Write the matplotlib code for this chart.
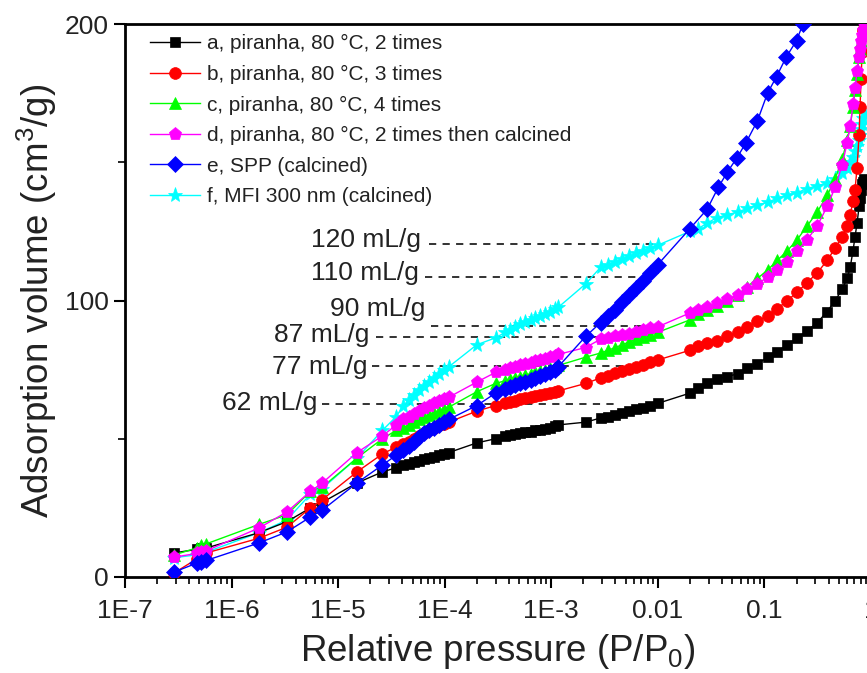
import matplotlib
matplotlib.use('Agg')
import matplotlib.pyplot as plt
from matplotlib.ticker import FixedLocator, FixedFormatter, NullFormatter

plt.rcParams['font.family'] = ['Liberation Sans', 'DejaVu Sans']
plt.rcParams['mathtext.fontset'] = 'custom'
plt.rcParams['mathtext.rm'] = 'Liberation Sans'
plt.rcParams['mathtext.it'] = 'Liberation Sans:italic'

# ---------------- data ----------------
P_common = [
    2.9e-7, 4.7e-7, 5.2e-7, 5.8e-7, 1.8e-6, 3.3e-6, 5.5e-6, 7.1e-6, 1.5e-5, 2.6e-5, 3.5e-5,
    4.1e-5, 4.6e-5, 5.1e-5, 5.7e-5, 6.4e-5, 7.1e-5, 7.9e-5, 8.8e-5, 9.8e-5, 1.09e-4,
    2.0e-4, 3.0e-4,
    3.7e-4, 4.1e-4, 4.6e-4, 5.1e-4, 5.7e-4, 6.4e-4, 7.1e-4, 7.9e-4, 8.8e-4, 9.8e-4, 1.09e-3, 1.16e-3,
    2.1e-3, 2.9e-3,
    3.4e-3, 4.0e-3, 4.6e-3, 5.4e-3, 6.2e-3, 7.2e-3, 8.4e-3, 1.0e-2,
    2.0e-2,
    0.024, 0.029, 0.036, 0.045, 0.056, 0.069, 0.086, 0.107, 0.132, 0.164, 0.203, 0.252, 0.313, 0.388,
    0.461, 0.536, 0.597, 0.638, 0.678, 0.708, 0.740, 0.773, 0.789, 0.807, 0.825, 0.842, 0.860,
]

V_a = [8.7, 10, 10.5, 10.5, 16, 20, 25, 27, 34, 38, 39.5,
       40.5, 41, 41.5, 42, 42.5, 43, 43.5, 44, 44.5, 45,
       48.5, 50,
       51, 51.3, 51.6, 52, 52.3, 52.6, 53, 53.3, 53.7, 54, 54.5, 55,
       56, 57.5,
       58, 58.7, 59.4, 60, 60.7, 61.3, 62, 62.8,
       66.5,
       68.5, 70, 71.5, 72.5, 73.5, 75.5, 77, 79.5, 81.5, 84, 86.5, 89, 92, 96,
       100, 104, 108, 112, 118, 123, 128, 134, 137, 140, 142, 143, 144]

V_b = [1.5, 6.5, 8, 8.7, 14, 18, 25, 28, 38, 44.5, 47,
       48, 49, 50, 51, 52, 53, 54, 55, 55.5, 56,
       60, 62,
       63, 63.4, 63.8, 64.2, 64.6, 65, 65.4, 65.8, 66.2, 66.6, 67, 67.3,
       70, 72,
       72.8, 73.6, 74.4, 75.2, 76, 76.8, 77.6, 78.5,
       82,
       83.5, 84.5, 85.5, 87, 88.5, 90.5, 92.5, 94.5, 97, 100, 103, 106.5, 110, 114.5,
       119, 123, 127, 131, 136, 140, 148, 160, 170, 180, 190, 198, 205]

V_c = [8, 10.5, 11.5, 12, 19, 22.5, 31, 32.5, 43, 50, 53,
       54, 55, 56, 57, 57.8, 58.5, 59.2, 60, 60.7, 61.4,
       67, 70,
       71, 71.5, 72, 72.5, 73, 73.5, 74, 74.5, 75, 75.5, 76, 76.5,
       79.5, 81,
       82, 83, 84, 85, 86, 86.8, 87.5, 88.5,
       93,
       95, 96.5, 98, 100, 102, 105, 108, 111, 114.5, 118, 122, 127, 132, 138,
       144, 151, 158, 163, 170, 176, 182, 188, 191, 194, 196, 198, 200]

V_d = [7.2, 8.5, 9, 9.5, 17.7, 23.5, 31, 34, 45, 51, 55,
       57, 58, 59, 60, 61, 62, 62.8, 63.5, 64.2, 65,
       70.5, 74,
       75, 75.5, 76, 76.5, 77, 77.5, 78, 78.5, 79, 79.5, 80, 80.5,
       83, 86,
       86.5, 87, 87.5, 88, 88.7, 89.3, 90, 90.5,
       95.5,
       96.5, 97.5, 99, 100.5, 102, 104, 106, 108.5, 111, 114, 118, 122, 127, 134,
       141, 149, 157, 163, 171, 177, 183, 188, 191, 194, 196, 198, 200]

V_f = [7, 8, 8.5, 9, 16, 20.6, 30, 32, 43, 53, 58,
       62, 64, 66, 67.5, 69, 70.5, 72, 73.5, 75, 76,
       84, 86.5,
       88.5, 89.5, 90.5, 91.5, 92.3, 93, 93.8, 94.5, 95.2, 96, 97, 97.5,
       106, 112,
       113, 114, 115, 116, 117, 118, 119, 120,
       125,
       126, 128, 130, 131, 132, 133.3, 134.5, 135.5, 137, 138, 139, 140.5, 141.5, 142.5,
       144, 146, 148, 150, 152, 154, 156, 158, 160, 162, 164, 166, 168]

P_e = [
    2.9e-7, 4.7e-7, 5.2e-7, 5.8e-7, 1.8e-6, 3.3e-6, 5.5e-6, 7.1e-6, 1.5e-5, 2.6e-5, 3.5e-5,
    4.1e-5, 4.6e-5, 5.1e-5, 5.7e-5, 6.4e-5, 7.1e-5, 7.9e-5, 8.8e-5, 9.8e-5, 1.09e-4,
    2.0e-4, 3.0e-4,
    3.7e-4, 4.1e-4, 4.6e-4, 5.1e-4, 5.7e-4, 6.4e-4, 7.1e-4, 7.9e-4, 8.8e-4, 9.8e-4, 1.09e-3, 1.16e-3,
    2.1e-3, 2.9e-3,
    3.4e-3, 4.0e-3, 4.6e-3, 5.4e-3, 6.2e-3, 7.2e-3, 8.4e-3, 1.0e-2,
    0.020, 0.029, 0.037, 0.045, 0.055, 0.067, 0.086, 0.107, 0.13, 0.16, 0.20, 0.23, 0.26,
]
V_e = [1.8, 5, 5.5, 6, 12.3, 16.3, 21.7, 24.2, 34, 40.5, 44,
       46, 47.5, 49, 50.5, 52, 53, 54, 55, 56, 57,
       62, 66.5,
       68, 68.7, 69.4, 70, 70.7, 71.4, 72, 72.7, 73.4, 74, 75, 76,
       87, 92,
       94.5, 96.5, 99.5, 102, 104.5, 107, 110, 113,
       126, 133, 141, 146.5, 151.5, 157, 165, 175, 181, 188, 194, 200, 205]

labels = ["a, piranha, 80 \u00b0C, 2 times",
          "b, piranha, 80 \u00b0C, 3 times",
          "c, piranha, 80 \u00b0C, 4 times",
          "d, piranha, 80 \u00b0C, 2 times then calcined",
          "e, SPP (calcined)",
          "f, MFI 300 nm (calcined)"]

xtick_vals = [1e-7, 1e-6, 1e-5, 1e-4, 1e-3, 1e-2, 1e-1, 1]
xtick_labels = ["1E-7", "1E-6", "1E-5", "1E-4", "1E-3", "0.01", "0.1", "1"]
ytick_vals = [0, 100, 200]

ann_text = ["120 mL/g", "110 mL/g", "90 mL/g", "87 mL/g", "77 mL/g", "62 mL/g"]
ann_y = [120.4, 108.5, 90.8, 86.8, 76.3, 62.6]
ann_x0 = [7.1e-5, 6.6e-5, 7.4e-5, 2.26e-5, 2.08e-5, 7.1e-6]
ann_x1 = [9.4e-3, 6.9e-3, 9.4e-3, 9.4e-3, 9.4e-3, 4.2e-3]
ann_off = [(-8, 4), (-7, 4), (-5, 17), (-7, 2), (-5, -1), (-5, 1)]

# ---------------- figure ----------------
fig = plt.figure(figsize=(8.67, 6.73), dpi=100)
ax = fig.add_axes([125/867, 96/673, 746/867, 553/673])

series = [
    (P_common, V_a, 'black', 's', 7.5, 3),
    (P_common, V_b, '#ff0000', 'o', 8.5, 4),
    (P_common, V_c, '#00ff00', '^', 8.5, 5),
    (P_common, V_d, '#ff00ff', 'p', 9.5, 6),
    (P_e, V_e, '#0000ff', 'D', 8, 7),
    (P_common, V_f, '#00ffff', '*', 11, 2),
]
for (P, V, c, m, ms, z), lab in zip(series, labels):
    ax.plot(P, V, color=c, marker=m, ms=ms, mec=c, mfc=c, mew=0.5,
            lw=1.0, label=lab, zorder=z)

for t, y, x0, x1, off in zip(ann_text, ann_y, ann_x0, ann_x1, ann_off):
    ax.plot([x0, x1], [y, y], ls=(0, (4, 3.5)), color='#222222', lw=1.3, zorder=1)
    ax.annotate(t, xy=(x0, y), xytext=off, textcoords='offset pixels',
                ha='right', va='center', fontsize=19, color='#222222')

ax.set_xscale('log')
ax.set_xlim(1e-7, 1)
ax.set_ylim(0, 200)

ax.xaxis.set_major_locator(FixedLocator(xtick_vals))
ax.xaxis.set_major_formatter(FixedFormatter(xtick_labels))
minor = [m * 10.0**k for k in range(-7, 0) for m in range(2, 10)]
ax.xaxis.set_minor_locator(FixedLocator(minor))
ax.xaxis.set_minor_formatter(NullFormatter())
ax.yaxis.set_major_locator(FixedLocator(ytick_vals))
ax.yaxis.set_minor_locator(FixedLocator([50, 150]))

ax.tick_params(which='major', direction='out', length=8, width=1.5,
               labelsize=19, labelcolor='#222222', top=False, right=False)
ax.tick_params(which='minor', direction='out', length=5, width=1.2,
               top=False, right=False)
ax.tick_params(axis='x', which='major', pad=8)
for s in ax.spines.values():
    s.set_linewidth(2)

ax.set_xlabel("Relative pressure (P/P$_0$)", fontsize=26.5, color='#222222', labelpad=6)
ax.set_ylabel("Adsorption volume (cm$^3$/g)", fontsize=26.5, color='#222222', labelpad=4)

leg = ax.legend(loc='upper left', bbox_to_anchor=(0.02, 1.0), frameon=False,
                fontsize=15, handlelength=2.4, labelspacing=0.55,
                handletextpad=0.3, borderaxespad=0.1)
for t in leg.get_texts():
    t.set_color('#222222')

fig.savefig('out.png', dpi=100)
